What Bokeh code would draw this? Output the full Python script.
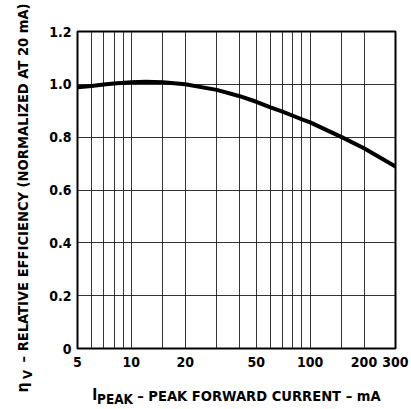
import math
from bokeh.plotting import figure
from bokeh.models import FixedTicker, Label
from bokeh.embed import file_html
from bokeh.resources import INLINE

# ---- data ----
current_ma = [5, 6, 7, 8, 10, 12, 15, 20, 30, 40, 50, 60, 70, 80, 90, 100, 150, 200, 300]
rel_eff = [0.989, 0.994, 0.999, 1.003, 1.008, 1.010, 1.008, 1.000, 0.979, 0.956,
           0.934, 0.913, 0.897, 0.881, 0.867, 0.856, 0.800, 0.758, 0.689]

x_tick_values = [5, 10, 20, 50, 100, 200, 300]
x_tick_labels = ["5", "10", "20", "50", "100", "200", "300"]
x_grid_values = [6, 7, 8, 9, 10, 15, 20, 30, 40, 50, 60, 70, 80, 90, 100, 150, 200]
y_tick_values = [0, 0.2, 0.4, 0.6, 0.8, 1.0, 1.2]
y_tick_labels = ["0", "0.2", "0.4", "0.6", "0.8", "1.0", "1.2"]
y_grid_values = [0.2, 0.4, 0.6, 0.8, 1.0]

x_title_main = "I"
x_title_sub = "PEAK"
x_title_rest = "– PEAK FORWARD CURRENT – mA"
y_title_main = "η"
y_title_sub = "V"
y_title_rest = "– RELATIVE EFFICIENCY (NORMALIZED AT 20 mA)"

FONT = "DejaVu Sans Condensed"
X0, X1, Y0, Y1 = 5, 300, 0, 1.2
W, H = 411, 409
L, R, T, B = 77, 395, 31, 348   # frame edges in canvas pixels

p = figure(width=W, height=H, x_axis_type="log", x_range=(X0, X1), y_range=(Y0, Y1),
           output_backend="svg", toolbar_location=None,
           min_border_left=L, min_border_right=W - R, min_border_top=T, min_border_bottom=H - B)

p.outline_line_color = "black"
p.outline_line_width = 2

for ax in (p.xaxis[0], p.yaxis[0]):
    ax.axis_line_color = None
    ax.major_tick_line_color = None
    ax.minor_tick_line_color = None
    ax.major_tick_out = 0
    ax.major_tick_in = 0
    ax.minor_tick_out = 0
    ax.minor_tick_in = 0
    ax.major_label_text_font = FONT
    ax.major_label_text_font_style = "bold"
    ax.major_label_text_font_size = "14px"
    ax.major_label_text_color = "black"

p.xaxis.ticker = FixedTicker(ticks=x_tick_values, minor_ticks=[])
p.xaxis.major_label_overrides = {v: t for v, t in zip(x_tick_values, x_tick_labels)}
p.xaxis.major_label_standoff = 8
p.yaxis.ticker = FixedTicker(ticks=y_tick_values, minor_ticks=[])
p.yaxis.major_label_overrides = {v: t for v, t in zip(y_tick_values, y_tick_labels)}
p.yaxis.major_label_standoff = 6

p.xgrid.ticker = FixedTicker(ticks=x_grid_values, minor_ticks=[])
p.ygrid.ticker = FixedTicker(ticks=y_grid_values, minor_ticks=[])
for g in (p.xgrid[0], p.ygrid[0]):
    g.grid_line_color = "#111111"
    g.grid_line_width = 1
    g.grid_line_alpha = 0.85

p.line(current_ma, rel_eff, line_width=4, line_color="black", line_join="round", line_cap="round")


# title pieces: placed in side panels (not clipped), positioned through the plot's scales
def xd(px):
    return X0 * 10 ** ((px - L) / (R - L) * math.log10(X1 / X0))


def yd(py):
    return Y0 + (B - py) / (B - T) * (Y1 - Y0)


def lab(side, text, px, py, size, angle=0.0):
    p.add_layout(Label(x=xd(px), y=yd(py), x_units="data", y_units="data", text=text,
                       text_font=FONT, text_font_style="bold", text_font_size=size,
                       text_color="black", angle=angle,
                       text_align="left", text_baseline="middle"), side)


ang = math.pi / 2
lab("below", x_title_sub, 96.5, 398.5, "13.5px")
lab("above", x_title_rest, 136.7, 394.5, "14.6px")
lab("right", x_title_main, 91.7, 394.5, "15px")
lab("left", y_title_rest, 21.5, 362, "14.6px", ang)
lab("left", y_title_main, 21.5, 392, "16px", ang)
lab("above", y_title_sub, 27, 378.5, "13px", ang)

open("out.html", "w").write(file_html(p, INLINE))
